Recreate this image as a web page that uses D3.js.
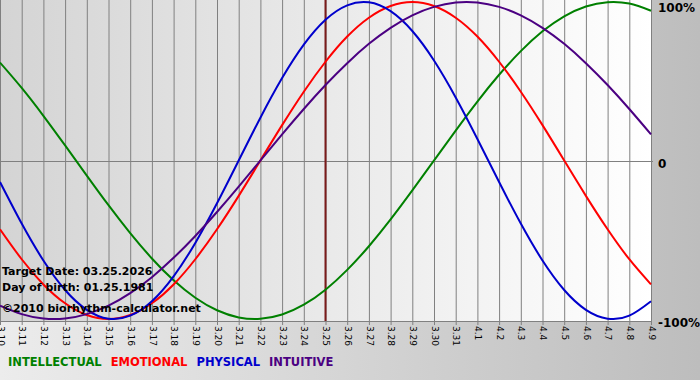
<!DOCTYPE html>
<html>
<head>
<meta charset="utf-8">
<script src="https://cdn.jsdelivr.net/npm/d3@7"></script>
<style>
body{margin:0;background:#fff;}
svg{display:block;font-family:Verdana,"DejaVu Sans",sans-serif;}
</style>
</head>
<body>
<div id="chart"></div>
<script>
// days shown on the x axis
var days = ["3.10","3.11","3.12","3.13","3.14","3.15","3.16","3.17","3.18","3.19","3.20",
            "3.21","3.22","3.23","3.24","3.25","3.26","3.27","3.28","3.29","3.30","3.31",
            "4.1","4.2","4.3","4.4","4.5","4.6","4.7","4.8","4.9"];

// cycle values per day (-1 .. 1)
var intellectual = [0.618,0.458,0.282,0.095,-0.095,-0.282,-0.458,-0.618,-0.756,-0.866,-0.945,-0.990,-0.999,-0.972,-0.910,-0.815,
                    -0.690,-0.541,-0.372,-0.189,0.000,0.189,0.372,0.541,0.690,0.815,0.910,0.972,0.999,0.990,0.945];
var emotional    = [-0.434,-0.623,-0.782,-0.901,-0.975,-1.000,-0.975,-0.901,-0.782,-0.623,-0.434,-0.223,0.000,0.223,0.434,0.623,
                    0.782,0.901,0.975,1.000,0.975,0.901,0.782,0.623,0.434,0.223,0.000,-0.223,-0.434,-0.623,-0.782];
var physical     = [-0.136,-0.398,-0.631,-0.817,-0.942,-0.998,-0.979,-0.888,-0.731,-0.520,-0.270,0.000,0.270,0.520,0.731,0.888,
                    0.979,0.998,0.942,0.817,0.631,0.398,0.136,-0.136,-0.398,-0.631,-0.817,-0.942,-0.998,-0.979,-0.888];
var intuitive    = [-0.916,-0.969,-0.997,-0.997,-0.969,-0.916,-0.837,-0.736,-0.614,-0.476,-0.325,-0.165,0.000,0.165,0.325,0.476,
                    0.614,0.736,0.837,0.916,0.969,0.997,0.997,0.969,0.916,0.837,0.736,0.614,0.476,0.325,0.165];

var yTicks = [1, 0, -1];
var yTickLabels = ["100%", "0", "-100%"];
var targetDay = "3.25";

var seriesNames = ["INTELLECTUAL","EMOTIONAL","PHYSICAL","INTUITIVE"];
var seriesValues = [intellectual, emotional, physical, intuitive];
var seriesColors = ["#008000","#ff0000","#0000cc","#4b0082"];

var infoLines = ["Target Date: 03.25.2026", "Day of birth: 01.25.1981", "\u00a92010 biorhythm-calculator.net"];

var width = 700, height = 380,
    plotW = 651, plotH = 321;

var svg = d3.select("#chart").append("svg")
    .attr("width", width)
    .attr("height", height);

var defs = svg.append("defs");
var bgGrad = defs.append("linearGradient").attr("id","bgGrad");
bgGrad.append("stop").attr("offset","0%").attr("stop-color","#ececec");
bgGrad.append("stop").attr("offset","100%").attr("stop-color","#bdbdbd");
var plotGrad = defs.append("linearGradient").attr("id","plotGrad");
plotGrad.append("stop").attr("offset","0%").attr("stop-color","#d4d4d4");
plotGrad.append("stop").attr("offset","100%").attr("stop-color","#ffffff");

svg.append("rect")
    .attr("width", width).attr("height", height)
    .attr("fill", "url(#bgGrad)");
svg.append("rect")
    .attr("width", plotW).attr("height", plotH)
    .attr("fill", "url(#plotGrad)");

var xScale = d3.scalePoint()
    .domain(days)
    .range([0, plotW]);

var yScale = d3.scaleLinear()
    .domain([-1, 1])
    .range([319, 2]);

// vertical grid + rotated day labels
var xAxis = d3.axisBottom(xScale)
    .tickSize(plotH + 4)
    .tickSizeOuter(0);
var gx = svg.append("g")
    .attr("class","axis x-axis")
    .call(xAxis);
gx.select(".domain").remove();
gx.selectAll(".tick line")
    .attr("stroke", "#808080");
gx.selectAll(".tick text")
    .attr("transform", "rotate(90)")
    .attr("x", plotH + 5)
    .attr("y", 0)
    .attr("dy", "0.32em")
    .attr("text-anchor", "start")
    .attr("font-size", 9)
    .attr("font-family", "Verdana, 'DejaVu Sans', sans-serif")
    .attr("fill", "#000");

// bottom border and zero line
svg.append("line")
    .attr("x1", 0).attr("x2", plotW)
    .attr("y1", plotH + 0.5).attr("y2", plotH + 0.5)
    .attr("stroke", "#808080");
svg.append("line")
    .attr("x1", 0).attr("x2", plotW + 2)
    .attr("y1", Math.round(yScale(0)) + 0.5).attr("y2", Math.round(yScale(0)) + 0.5)
    .attr("stroke", "#808080");

// right labels
var yAxis = d3.axisRight(yScale)
    .tickValues(yTicks)
    .tickFormat(function(d,i){return yTickLabels[i]})
    .tickSize(0);
var gy = svg.append("g")
    .attr("class","axis y-axis")
    .attr("transform","translate(" + plotW + ",0)")
    .call(yAxis);
gy.select(".domain").remove();
gy.selectAll(".tick text")
    .attr("x", 7)
    .attr("y", function(d,i){return [5, 3, 3][i]})
    .attr("dy", "0.35em")
    .attr("font-size", 12)
    .attr("font-weight", "bold")
    .attr("font-family", "Verdana, 'DejaVu Sans', sans-serif")
    .attr("fill", "#000");

// target date marker
svg.append("line")
    .attr("x1", xScale(targetDay)).attr("x2", xScale(targetDay))
    .attr("y1", 0).attr("y2", plotH)
    .attr("stroke", "#7a1a1a")
    .attr("stroke-width", 2);

var line = d3.line()
    .x(function(d,i){return xScale(days[i])})
    .y(function(d){return yScale(d)})
    .curve(d3.curveNatural);

svg.append("g").attr("class","curves")
    .selectAll("path")
    .data(seriesValues)
    .enter().append("path")
    .attr("d", line)
    .attr("fill", "none")
    .attr("stroke", function(d,i){return seriesColors[i]})
    .attr("stroke-width", 2);

// info text
svg.append("g").attr("class","info")
    .selectAll("text")
    .data(infoLines)
    .enter().append("text")
    .attr("x", 2)
    .attr("y", function(d,i){return [275, 291, 312][i]})
    .attr("font-size", 11)
    .attr("font-weight", "bold")
    .attr("fill", "#000")
    .text(function(d){return d});

// legend
var legend = svg.append("text")
    .attr("x", 8)
    .attr("y", 366)
    .attr("font-size", 11.5)
    .attr("font-weight", "bold");
legend.selectAll("tspan")
    .data(seriesNames)
    .enter().append("tspan")
    .attr("dx", function(d,i){return i ? 9 : 0})
    .attr("fill", function(d,i){return seriesColors[i]})
    .text(function(d){return d});
</script>
</body>
</html>
